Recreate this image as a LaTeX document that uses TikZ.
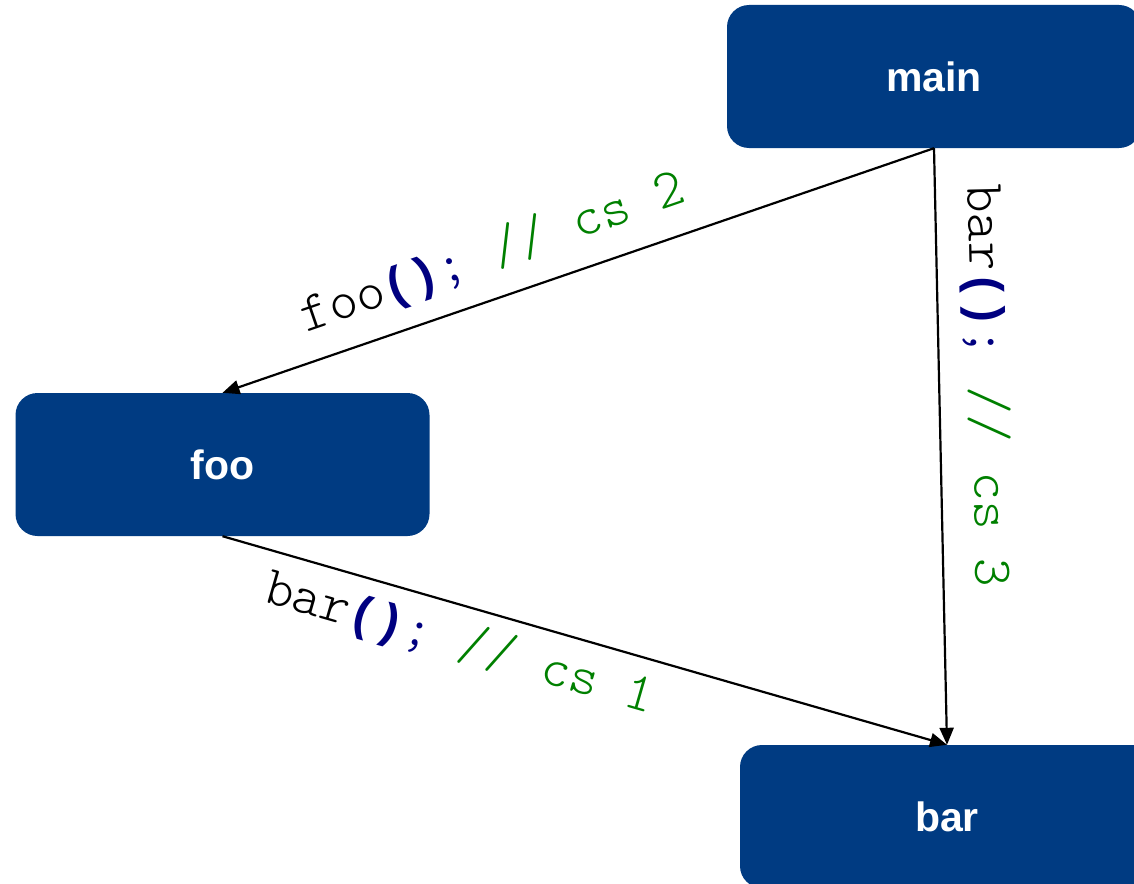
\documentclass[tikz,border=0pt]{standalone}
\usepackage{fontspec}
\setmainfont{Liberation Sans}
\newfontfamily\codefont{Latin Modern Mono Light}
\newfontfamily\parenfont{Liberation Mono}
\usetikzlibrary{arrows.meta}
\definecolor{boxblue}{HTML}{003B82}
\definecolor{codenavy}{HTML}{000080}
\definecolor{codegreen}{HTML}{008000}
\newcommand\callcode[2]{#1{\color{codenavy}{\parenfont\fontsize{48}{58}\selectfont\bfseries ()};} {\color{codegreen}// cs #2}}
\begin{document}
\begin{tikzpicture}[x=1pt,y=1pt,
  fn/.style={rectangle, rounded corners=22pt, fill=boxblue, text=white,
    font=\fontsize{41}{49}\selectfont\bfseries,
    minimum width=414pt, minimum height=143pt, inner sep=0pt},
  call/.style={draw=black, line width=2.2pt, -{Triangle[length=17pt,width=14pt]}},
  lbl/.style={sloped, inner sep=0pt, font=\codefont\fontsize{54.8}{60}\selectfont},
]
\useasboundingbox (0,0) rectangle (1134,-883);
\node[fn] (main) at (934,-76.5) {main};
\node[fn] (foo) at (222.5,-464.5) {foo};
\node[fn] (bar) at (947,-816.5) {bar};
\draw[call] (main.south) -- node[lbl, pos=0.6, above=30pt, anchor=base] {\callcode{foo}{2}} (foo.north);
\draw[call] (main.south) -- node[lbl, pos=0.4, above=33pt, anchor=base] {\callcode{bar}{3}} (bar.north);
\draw[call] (foo.south) -- node[lbl, pos=0.342, below=52pt, anchor=base] {\callcode{bar}{1}} (bar.north);
\end{tikzpicture}
\end{document}
